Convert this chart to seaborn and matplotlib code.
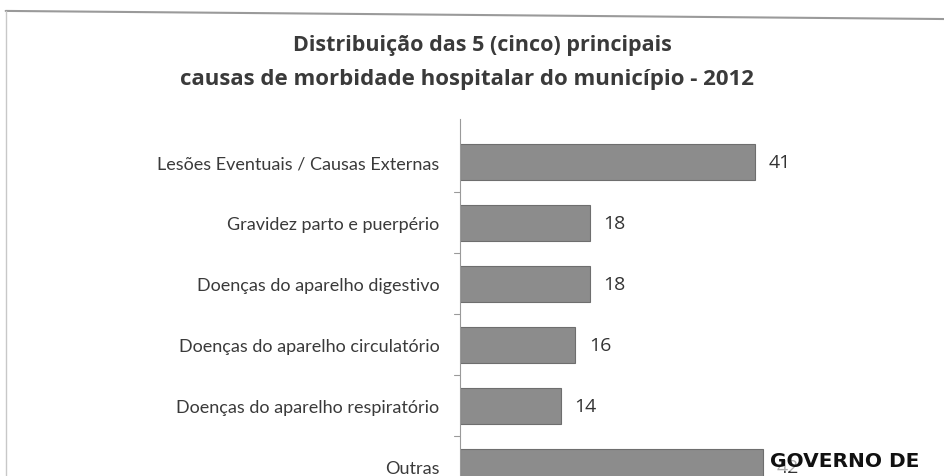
import matplotlib
matplotlib.use("Agg")
import matplotlib.pyplot as plt
import seaborn as sns
import pandas as pd
from matplotlib.lines import Line2D

# Data
causes = [
    "Lesões Eventuais / Causas Externas",
    "Gravidez parto e puerpério",
    "Doenças do aparelho digestivo",
    "Doenças do aparelho circulatório",
    "Doenças do aparelho respiratório",
    "Outras",
]
values = [41, 18, 18, 16, 14, 42]

df = pd.DataFrame({"causa": causes, "valor": values})

sns.set_theme(style="white")
plt.rcParams["font.family"] = ["Lato", "DejaVu Sans"]

fig = plt.figure(figsize=(9.45, 4.77), dpi=100)
ax = fig.add_axes([0.487, -0.045, 0.457, 0.793])

sns.barplot(data=df, y="causa", x="valor", orient="h", color="#8c8c8c",
            saturation=1, width=0.6, edgecolor="#6e6e6e", linewidth=0.8, ax=ax)

ax.set_xlim(0, 60)
ax.set_ylim(5.5, -0.7)
ax.set_xlabel("")
ax.set_ylabel("")
ax.set_xticks([])
for s in ["top", "right", "bottom"]:
    ax.spines[s].set_visible(False)
ax.spines["left"].set_color("#9a9a9a")
ax.spines["left"].set_linewidth(0.8)
ax.tick_params(axis="y", length=0, pad=15, labelsize=13, labelcolor="#3a3a3a")

# small ticks between categories
for k in range(len(causes) - 1):
    ax.plot([-0.8, 0], [k + 0.5, k + 0.5], color="#9a9a9a", lw=0.8, clip_on=False)

# value labels
for i, v in enumerate(values):
    ax.text(v + 1.9, i, str(v), va="center", ha="left", fontsize=14,
            color="#333333", family=["Open Sans", "DejaVu Sans"], zorder=3)

fig.text(0.51, 0.905, "Distribuição das 5 (cinco) principais", ha="center",
         va="center", fontsize=15.5, fontweight="bold", color="#3a3a3a",
         family=["Open Sans", "DejaVu Sans"])
fig.text(0.494, 0.833, "causas de morbidade hospitalar do município - 2012",
         ha="center", va="center", fontsize=16, fontweight="bold", color="#3a3a3a",
         family=["Open Sans", "DejaVu Sans"])

# scanned page frame
fig.add_artist(Line2D([0.006, 1.0], [0.975, 0.958], transform=fig.transFigure,
                      color="#9a9a9a", lw=1.5))
fig.add_artist(Line2D([0.006, 0.006], [0.975, 0.0], transform=fig.transFigure,
                      color="#c8c8c8", lw=1.0))

# overlapping stamp text from the scanned page (covers the "42" as in the scan)
fig.text(0.815, 0.033, "GOVERNO DE", ha="left", va="center", fontsize=14.5,
         fontweight="bold", color="#111111", family=["DejaVu Sans"], zorder=10,
         bbox=dict(facecolor="white", edgecolor="none", pad=1.0, alpha=0.6))

fig.savefig("out.png", dpi=100)
